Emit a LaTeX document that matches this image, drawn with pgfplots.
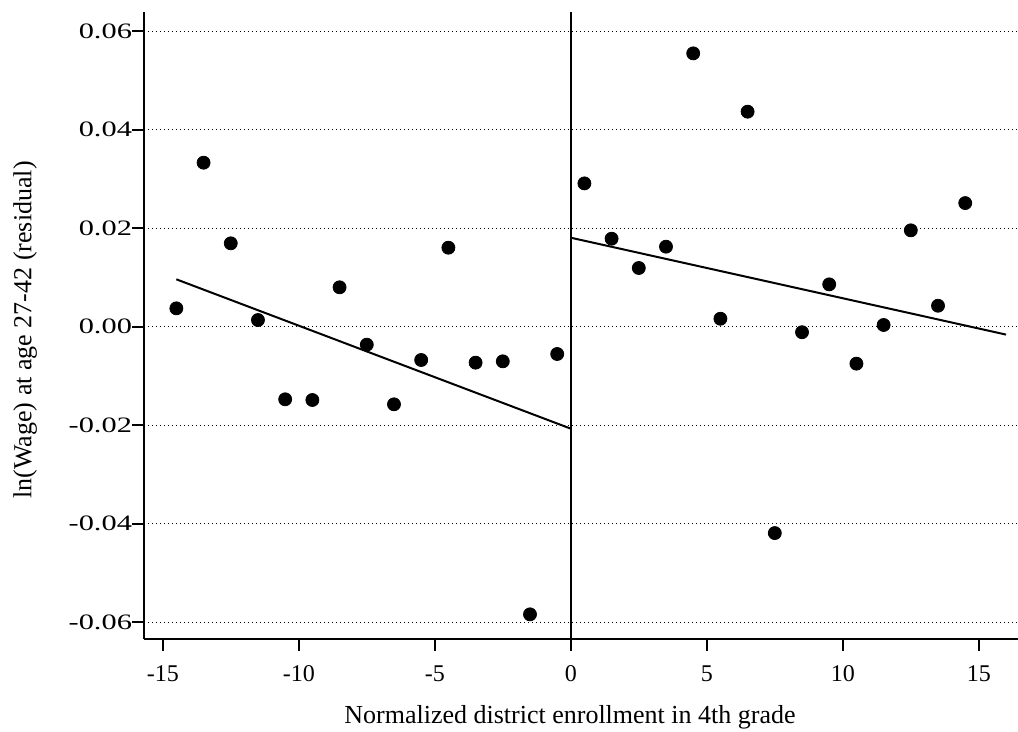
\documentclass[border=0pt]{standalone}
\usepackage{pgfplots}
\pgfplotsset{compat=1.18}
\usepackage{graphicx}
\usepackage{fontspec}
\setmainfont{Liberation Serif}
\begin{document}
\begin{tikzpicture}
\begin{axis}[
  scale only axis, width=437pt, height=313.5pt,
  xmin=-15.69, xmax=16.44, ymin=-0.0634, ymax=0.0639,
  axis x line=bottom, axis y line=left,
  axis line style={-, line width=0.9pt},
  xtick={-15,-10,-5,0,5,10,15},
  ytick={-0.06,-0.04,-0.02,0,0.02,0.04,0.06},
  scaled y ticks=false,
  tick align=outside,
  major tick length=6pt,
  every tick/.style={black, line width=0.9pt},
  ymajorgrids,
  grid style={black, line width=0.5pt, dash pattern=on 0.6pt off 1.4pt},
  xticklabel={\pgfmathprintnumber[assume math mode=true]{\tick}},
  yticklabel={\scalebox{1.38}[1]{\pgfmathprintnumber[fixed,fixed zerofill,precision=2,assume math mode=true]{\tick}}},
  xticklabel style={font=\fontsize{12}{14}\selectfont, anchor=north, yshift=-4pt},
  yticklabel style={font=\fontsize{11}{13}\selectfont, anchor=east, xshift=3.5pt},
  xlabel={Normalized district enrollment in 4th grade},
  ylabel={ln(Wage) at age 27-42 (residual)},
  xlabel style={font=\fontsize{13}{15}\selectfont, at={(axis description cs:0.4874,-0.1244)}, anchor=center},
  ylabel style={font=\fontsize{13}{15}\selectfont, at={(axis description cs:-0.136,0.493)}, anchor=center},
  clip=false,
]
% scatter points
\addplot[only marks, mark=*, mark size=3.25pt, black] coordinates {
(-14.5,0.00373) (-13.5,0.0333) (-12.5,0.01693) (-11.5,0.00136) (-10.5,-0.01474)
(-9.5,-0.01488) (-8.5,0.0080) (-7.5,-0.00365) (-6.5,-0.01576) (-5.5,-0.00676)
(-4.5,0.01604) (-3.5,-0.0073) (-2.5,-0.00703) (-1.5,-0.0584) (-0.5,-0.00554)
(0.5,0.0291) (1.5,0.01787) (2.5,0.01192) (3.5,0.01625) (4.5,0.0555)
(5.5,0.00162) (6.5,0.04366) (7.5,-0.0419) (8.5,-0.00112) (9.5,0.0086)
(10.5,-0.0075) (11.5,0.00035) (12.5,0.01957) (13.5,0.00426) (14.5,0.0251)
};
% fit lines
\addplot[black, line width=1pt] coordinates {(-14.5,0.00962) (0,-0.0207)};
\addplot[black, line width=1pt] coordinates {(0,0.01807) (16,-0.0016)};
% cutoff line
\addplot[black, line width=0.7pt] coordinates {(0,-0.0634) (0,0.0639)};
\end{axis}
\pgfresetboundingbox
\path ([xshift=-72pt,yshift=-46.5pt]current axis.south west) rectangle ([yshift=6pt]current axis.north east);
\end{tikzpicture}
\end{document}
